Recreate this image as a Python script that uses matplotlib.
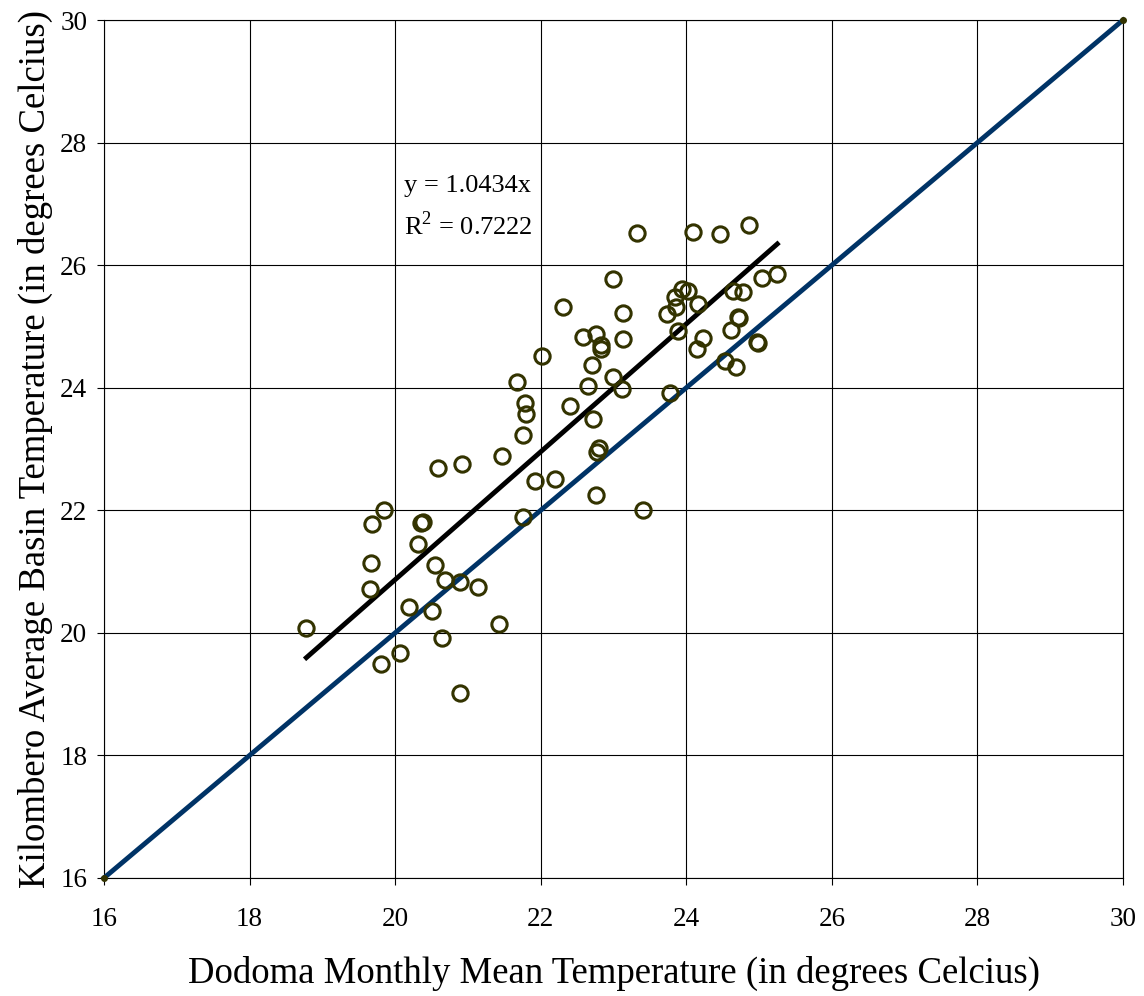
import matplotlib.pyplot as plt
import numpy as np

# monthly mean temperatures, Dodoma (x) vs Kilombero basin average (y)
dodoma = [18.78, 19.65, 19.67, 19.68, 19.85, 19.81, 20.07, 20.19, 20.31, 20.35,
          20.38, 20.51, 20.55, 20.59, 20.64, 20.68, 20.89, 20.89, 20.92, 21.14,
          21.43, 21.47, 21.67, 21.78, 21.80, 21.76, 21.76, 21.92, 22.02, 22.20,
          22.31, 22.40, 22.58, 22.76, 22.83, 22.83, 22.70, 22.65, 22.72, 22.80,
          22.77, 22.76, 22.99, 23.13, 23.13, 22.99, 23.12, 23.40, 23.32, 23.73,
          23.86, 23.84, 23.94, 24.02, 23.89, 23.78, 24.09, 24.16, 24.15, 24.23,
          24.46, 24.53, 24.64, 24.78, 24.71, 24.72, 24.61, 24.68, 24.86, 24.97,
          24.98, 25.04, 25.25]
kilombero = [20.08, 20.72, 21.14, 21.78, 22.00, 19.49, 19.67, 20.42, 21.45, 21.79,
             21.81, 20.36, 21.11, 22.69, 19.92, 20.86, 20.83, 19.02, 22.75, 20.75,
             20.14, 22.89, 24.09, 23.75, 23.57, 23.23, 21.89, 22.48, 24.52, 22.51,
             25.32, 23.70, 24.83, 24.88, 24.70, 24.63, 24.37, 24.03, 23.49, 23.02,
             22.95, 22.25, 25.77, 25.22, 24.79, 24.17, 23.98, 22.00, 26.52, 25.20,
             25.32, 25.48, 25.61, 25.58, 24.92, 23.91, 26.54, 25.37, 24.63, 24.81,
             26.51, 24.44, 25.58, 25.56, 25.15, 25.14, 24.94, 24.34, 26.65, 24.75,
             24.73, 25.79, 25.85]
slope = 1.0434
r2 = 0.7222
one_to_one = [16, 30]

plt.rcParams['font.family'] = ['Liberation Serif', 'DejaVu Serif']
plt.rcParams['mathtext.fontset'] = 'custom'
plt.rcParams['mathtext.rm'] = 'Liberation Serif'

fig = plt.figure(figsize=(11.44, 9.96), dpi=100)
ax = fig.add_axes([0.0909, 0.1185, 0.8908, 0.8614])

ax.plot(one_to_one, one_to_one, color='#003366', lw=3.5, marker='o',
        markersize=4, markerfacecolor='#333300', markeredgecolor='#333300',
        zorder=3, clip_on=False)

xs = np.array([min(dodoma), max(dodoma)])
ax.plot(xs, slope * xs, color='black', lw=3.5, zorder=4)

ax.plot(dodoma, kilombero, linestyle='none', marker='o', markersize=11,
        markerfacecolor='none', markeredgecolor='#333300', markeredgewidth=2.2,
        zorder=5)

ax.text(20.12, 27.29, 'y = %.4fx' % slope, fontsize=19, ha='left', va='center')
ax.text(20.12, 26.65, r'R$^{\mathregular{2}}$ = %.4f' % r2, fontsize=19,
        ha='left', va='center')

ax.set_xlim(16, 30)
ax.set_ylim(16, 30)
ax.set_xticks(np.arange(16, 31, 2))
ax.set_yticks(np.arange(16, 31, 2))
ax.grid(True, color='black', lw=0.8)
ax.set_axisbelow(True)
ax.tick_params(labelsize=19.5, length=5, width=0.8, direction='out')
ax.tick_params(axis='x', pad=16)
ax.tick_params(axis='y', pad=7)
for s in ax.spines.values():
    s.set_color('black')
    s.set_linewidth(0.8)

ax.set_xlabel('Dodoma Monthly Mean Temperature (in degrees Celcius)',
              fontsize=26.5, labelpad=17)
ax.set_ylabel('Kilombero Average Basin Temperature (in degrees Celcius)',
              fontsize=26.5, labelpad=5)

plt.savefig('out.png', dpi=100)
